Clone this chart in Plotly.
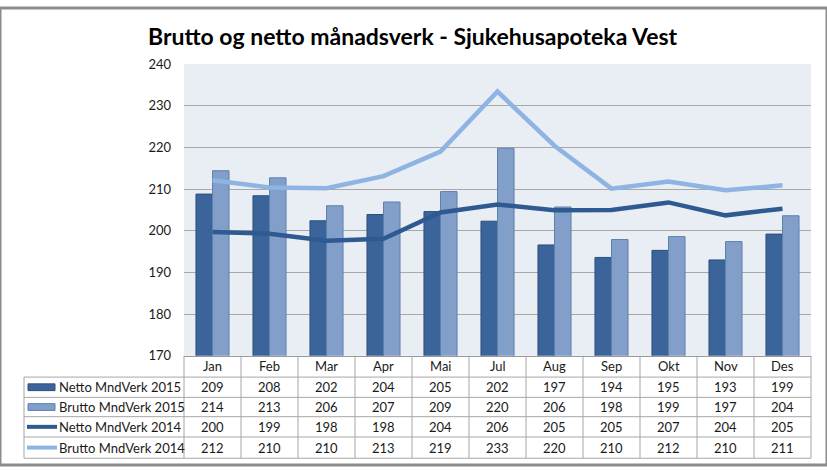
import plotly.graph_objects as go

months = ["Jan", "Feb", "Mar", "Apr", "Mai", "Jul", "Aug", "Sep", "Okt", "Nov", "Des"]
netto_2015 = [208.8, 208.4, 202.4, 203.9, 204.6, 202.3, 196.6, 193.6, 195.3, 193.0, 199.2]
brutto_2015 = [214.4, 212.7, 206.0, 206.9, 209.4, 219.8, 205.7, 197.9, 198.6, 197.4, 203.6]
netto_2014 = [199.7, 199.3, 197.6, 198.1, 204.4, 206.3, 204.9, 205.0, 206.8, 203.7, 205.3]
brutto_2014 = [212.1, 210.4, 210.2, 213.1, 219.0, 233.4, 220.4, 210.1, 211.8, 209.7, 210.9]
series_names = ["Netto MndVerk 2015", "Brutto MndVerk 2015", "Netto MndVerk 2014", "Brutto MndVerk 2014"]
y_ticks = [170, 180, 190, 200, 210, 220, 230, 240]

W, H = 827, 473
px_l, px_r = 184, 811
px_t, px_b = 58, 360
FONT = "Lato"

def fx(p):
    return p / W

def fy(p):
    return 1 - p / H

C_NB = "#3b659a"
C_BB = "#829fca"
C_NL = "#2f5a91"
C_BL = "#8db4e2"

fig = go.Figure()
fig.add_trace(go.Bar(x=months, y=netto_2015, name=series_names[0], marker=dict(color=C_NB, line=dict(color="#2c4f7c", width=1))))
fig.add_trace(go.Bar(x=months, y=brutto_2015, name=series_names[1], marker=dict(color=C_BB, line=dict(color="#5f7fad", width=1))))
fig.add_trace(go.Scatter(x=months, y=netto_2014, name=series_names[2], mode="lines", line=dict(color=C_NL, width=4.5)))
fig.add_trace(go.Scatter(x=months, y=brutto_2014, name=series_names[3], mode="lines", line=dict(color=C_BL, width=4.5)))

fig.update_layout(
    width=W, height=H,
    margin=dict(l=0, r=0, t=0, b=0),
    paper_bgcolor="white",
    plot_bgcolor="#e9edf4",
    showlegend=False,
    barmode="group", bargap=0.42, bargroupgap=0,
    font=dict(family=FONT, size=13, color="#1a1a1a"),
    xaxis=dict(domain=[fx(px_l), fx(px_r)], showticklabels=False, showgrid=False, zeroline=False,
               showline=True, linecolor="#9a9a9a", linewidth=1, fixedrange=True),
    yaxis=dict(domain=[fy(px_b), fy(px_t)], range=[170, 240], tickvals=y_ticks, showgrid=True,
               gridcolor="#a8a8a8", gridwidth=1, zeroline=False, showline=False,
               ticklabelstandoff=12, tickfont=dict(size=13, family=FONT, color="#1a1a1a")),
)

shapes = []
annotations = []

annotations.append(dict(text="<b>Brutto og netto månadsverk - Sjukehusapoteka Vest</b>", x=fx(413), y=fy(29),
                        xref="paper", yref="paper", showarrow=False, xanchor="center", yanchor="middle",
                        font=dict(family=FONT, size=23, color="#000000")))

row_lines = [382, 403, 423, 444, 466]
grid_c = "#a6a6a6"
tbl_left = 24
colw = (px_r - px_l) / len(months)
for i, yl in enumerate(row_lines):
    shapes.append(dict(type="line", xref="paper", yref="paper", x0=fx(tbl_left), x1=fx(px_r),
                       y0=fy(yl), y1=fy(yl), line=dict(color=grid_c, width=1)))
shapes.append(dict(type="line", xref="paper", yref="paper", x0=fx(tbl_left), x1=fx(tbl_left),
                   y0=fy(row_lines[0]), y1=fy(row_lines[-1]), line=dict(color=grid_c, width=1)))
for i in range(len(months) + 1):
    xv = px_l + i * colw
    shapes.append(dict(type="line", xref="paper", yref="paper", x0=fx(xv), x1=fx(xv),
                       y0=fy(px_b), y1=fy(row_lines[-1]), line=dict(color=grid_c, width=1)))
for i, m in enumerate(months):
    annotations.append(dict(text=m, x=fx(px_l + (i + 0.5) * colw), y=fy(371), xref="paper", yref="paper",
                            showarrow=False, xanchor="center", yanchor="middle", font=dict(size=13)))
rows = [netto_2015, brutto_2015, netto_2014, brutto_2014]
for r, vals in enumerate(rows):
    yc = (row_lines[r] + row_lines[r + 1]) / 2
    annotations.append(dict(text=series_names[r], x=fx(57), y=fy(yc), xref="paper", yref="paper",
                            showarrow=False, xanchor="left", yanchor="middle", font=dict(size=13)))
    for i, v in enumerate(vals):
        annotations.append(dict(text=str(int(v + 0.5)), x=fx(px_l + (i + 0.5) * colw), y=fy(yc),
                                xref="paper", yref="paper", showarrow=False, xanchor="center",
                                yanchor="middle", font=dict(size=13)))
yc0 = (row_lines[0] + row_lines[1]) / 2
yc1 = (row_lines[1] + row_lines[2]) / 2
yc2 = (row_lines[2] + row_lines[3]) / 2
yc3 = (row_lines[3] + row_lines[4]) / 2
shapes.append(dict(type="rect", xref="paper", yref="paper", x0=fx(28), x1=fx(55), y0=fy(yc0 - 3.5), y1=fy(yc0 + 3.5),
                   fillcolor=C_NB, line=dict(color="#2c4f7c", width=1)))
shapes.append(dict(type="rect", xref="paper", yref="paper", x0=fx(28), x1=fx(55), y0=fy(yc1 - 3.5), y1=fy(yc1 + 3.5),
                   fillcolor=C_BB, line=dict(color="#5f7fad", width=1)))
shapes.append(dict(type="line", xref="paper", yref="paper", x0=fx(27), x1=fx(57), y0=fy(yc2), y1=fy(yc2),
                   line=dict(color=C_NL, width=4)))
shapes.append(dict(type="line", xref="paper", yref="paper", x0=fx(27), x1=fx(57), y0=fy(yc3), y1=fy(yc3),
                   line=dict(color=C_BL, width=4)))

shapes.append(dict(type="rect", xref="paper", yref="paper", x0=0, x1=1, y0=0, y1=1,
                   line=dict(color="#8c8c8c", width=3), fillcolor="rgba(0,0,0,0)"))

fig.update_layout(shapes=shapes, annotations=annotations)
post = "document.body.style.margin='0';document.body.style.padding='0';"
fig.write_html("out.html", post_script=post, config={"displayModeBar": False})
